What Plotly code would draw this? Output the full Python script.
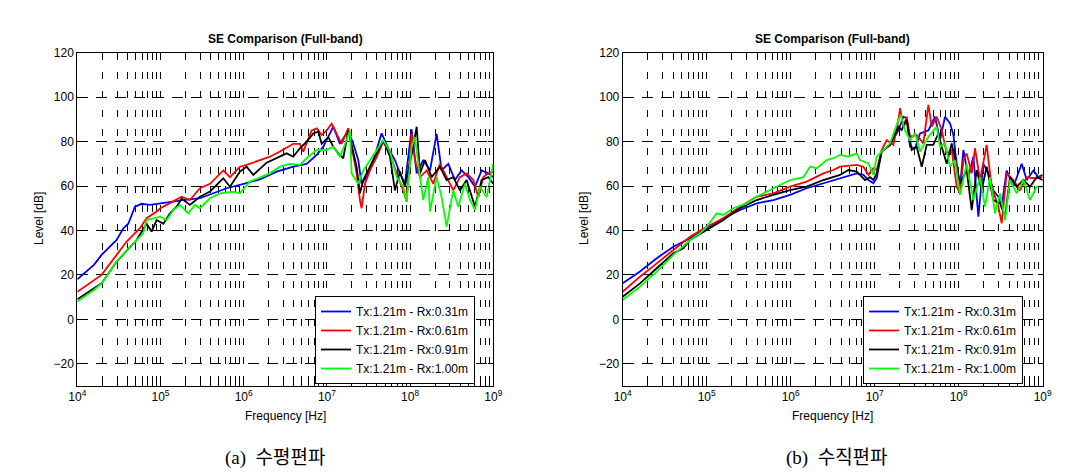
import plotly.graph_objects as go

# ---------------- data ----------------
legend_labels = ["Tx:1.21m - Rx:0.31m", "Tx:1.21m - Rx:0.61m",
                 "Tx:1.21m - Rx:0.91m", "Tx:1.21m - Rx:1.00m"]
line_colors = ["#0000FF", "#FF0000", "#000000", "#00FF00"]

# (a) horizontal polarisation: log10(frequency / Hz) and level [dB]
a_blue_logf = [4.000, 4.200, 4.292, 4.473, 4.553, 4.613, 4.693, 4.773, 4.873, 4.998,
               5.154, 5.274, 5.474, 5.635, 5.795, 5.999, 6.196, 6.396, 6.596, 6.756,
               6.877, 6.957, 7.017, 7.077, 7.157, 7.257, 7.317, 7.377, 7.417, 7.478,
               7.558, 7.658, 7.738, 7.818, 7.878, 7.938, 8.018, 8.079, 8.159, 8.239,
               8.319, 8.379, 8.459, 8.539, 8.619, 8.700, 8.780, 8.860, 8.940, 9.000]
a_blue_db = [18, 24.5, 29, 35.7, 41, 43, 50.7, 52, 51.5, 52.2,
             53, 53.7, 54.5, 56.7, 59, 61, 63, 66.5, 68.7, 70,
             74, 77.7, 82, 86.7, 79, 85, 79, 71.7, 61, 64,
             71.7, 83.7, 77, 71.7, 65.7, 61, 85.5, 65.7, 71.7, 67,
             83.5, 67, 70, 62.7, 67, 64, 59.7, 67, 65.7, 64]

a_red_logf = [4.000, 4.200, 4.292, 4.473, 4.593, 4.753, 4.833, 4.954, 4.998, 5.074,
              5.154, 5.254, 5.354, 5.474, 5.595, 5.715, 5.755, 5.835, 5.955, 6.035,
              6.196, 6.316, 6.436, 6.596, 6.676, 6.716, 6.817, 6.877, 6.937, 6.997,
              7.057, 7.117, 7.177, 7.257, 7.297, 7.357, 7.397, 7.417, 7.458, 7.518,
              7.598, 7.678, 7.758, 7.838, 7.918, 7.958, 8.018, 8.058, 8.119, 8.199,
              8.279, 8.359, 8.439, 8.519, 8.599, 8.679, 8.760, 8.820, 8.880, 8.940,
              9.000]
a_red_db = [12.4, 17.7, 20, 29, 35, 41, 45.5, 48.5, 50, 51.5,
            53, 55.2, 53.7, 59, 61, 65.7, 67, 64, 68.7, 69.5,
            71.7, 73.2, 75.5, 79, 79, 75.5, 85, 86, 83, 85,
            88, 83.7, 79, 86, 77.7, 65.7, 53.7, 50, 61, 67,
            73, 80, 74.7, 65.7, 58, 53, 83.7, 71.7, 64, 67,
            61, 70, 64, 58, 64, 65.7, 62.7, 55, 64, 65.7,
            66.5]

a_black_logf = [4.000, 4.200, 4.292, 4.473, 4.593, 4.713, 4.833, 4.893, 4.954, 5.034,
                5.114, 5.194, 5.254, 5.354, 5.474, 5.595, 5.675, 5.755, 5.835, 5.955,
                6.035, 6.115, 6.276, 6.396, 6.516, 6.596, 6.676, 6.756, 6.837, 6.897,
                6.937, 7.017, 7.077, 7.137, 7.197, 7.257, 7.317, 7.357, 7.397, 7.437,
                7.518, 7.598, 7.678, 7.758, 7.818, 7.878, 7.938, 8.038, 8.079, 8.119,
                8.179, 8.259, 8.359, 8.439, 8.519, 8.599, 8.679, 8.780, 8.860, 8.940,
                9.000]
a_black_db = [9, 14, 16.2, 26, 31, 35.7, 43, 39.5, 44.7, 43,
              47.7, 50.7, 54.4, 51.5, 55.2, 57.5, 60.5, 63.5, 59.7, 66.5,
              68.7, 65, 70.5, 72.5, 74.7, 73.2, 77, 80, 83.7, 84.5,
              79, 82, 77.7, 74.7, 72.5, 85, 75.5, 68.7, 56.7, 62.7,
              68.7, 74.7, 80.7, 73.2, 58, 66.5, 59.7, 77.7, 86.7, 65.7,
              71.7, 64, 68.7, 62.7, 64, 58, 62.7, 50.7, 62.7, 64,
              61]

a_green_logf = [4.000, 4.200, 4.292, 4.473, 4.593, 4.713, 4.793, 4.833, 4.913, 4.998,
                5.074, 5.154, 5.234, 5.334, 5.414, 5.474, 5.595, 5.715, 5.875, 5.955,
                6.075, 6.196, 6.316, 6.436, 6.556, 6.676, 6.756, 6.877, 6.997, 7.077,
                7.157, 7.237, 7.277, 7.297, 7.377, 7.437, 7.518, 7.598, 7.678, 7.758,
                7.838, 7.918, 7.958, 8.018, 8.058, 8.119, 8.159, 8.219, 8.239, 8.319,
                8.379, 8.439, 8.519, 8.579, 8.659, 8.720, 8.780, 8.840, 8.920, 9.000]
a_green_db = [8, 13.2, 16.2, 26, 31, 35.7, 38.7, 44.7, 45.5, 46.2,
              44.7, 49.2, 51.5, 47.7, 51.5, 50, 54.5, 56.7, 57.5, 56.7,
              62, 64, 65.7, 68.7, 70, 69.5, 72.5, 76.2, 76.2, 77.7,
              73.2, 80.7, 85, 65.7, 61, 67, 71.7, 76.2, 80.7, 75.5,
              64, 59.7, 53, 77.7, 82, 64, 53.7, 64, 48.5, 64,
              55, 41.7, 58, 50.7, 61, 53.7, 49.2, 59.7, 55, 70]

# (b) vertical polarisation
b_blue_logf = [4.000, 4.206, 4.405, 4.603, 4.802, 5.000, 5.198, 5.397, 5.595, 5.794,
               5.992, 6.190, 6.389, 6.587, 6.786, 6.865, 6.925, 6.984, 7.024, 7.083,
               7.183, 7.282, 7.341, 7.381, 7.421, 7.480, 7.540, 7.639, 7.718, 7.778,
               7.837, 7.897, 7.937, 7.976, 8.016, 8.056, 8.115, 8.175, 8.234, 8.294,
               8.353, 8.413, 8.472, 8.512, 8.571, 8.651, 8.750, 8.810, 8.889, 8.948,
               9.000]
b_blue_db = [16.2, 21.5, 27.5, 32.7, 36.5, 41, 45.5, 49.2, 52.2, 53.7,
             56, 59, 61.2, 63.5, 65.7, 65, 62.7, 61.2, 63.5, 75.5,
             78.5, 85, 91.2, 90.5, 77.7, 77, 83.7, 85, 91.2, 80.7,
             91.2, 88.2, 83, 70, 59.7, 76.2, 64, 73.2, 46.2, 70,
             65.7, 58, 55.2, 50.7, 67, 59.7, 70, 62.7, 67, 64,
             65]

b_red_logf = [4.000, 4.206, 4.405, 4.603, 4.802, 5.000, 5.198, 5.397, 5.595, 5.794,
              5.992, 6.190, 6.389, 6.508, 6.587, 6.786, 6.865, 6.925, 6.984, 7.024,
              7.083, 7.143, 7.222, 7.282, 7.302, 7.341, 7.381, 7.421, 7.500, 7.579,
              7.639, 7.679, 7.738, 7.798, 7.857, 7.917, 7.976, 8.016, 8.056, 8.095,
              8.155, 8.194, 8.254, 8.333, 8.393, 8.472, 8.512, 8.571, 8.651, 8.730,
              8.810, 8.889, 9.000]
b_red_db = [12.4, 19.2, 25.2, 31.2, 37.2, 41.7, 45.5, 50.7, 55.2, 56.7,
            59.7, 62, 65.7, 67.2, 68.7, 69.5, 68.7, 65, 68, 67.2,
            76.2, 80.7, 78.5, 89.7, 95, 86.7, 91.2, 82.2, 83, 79.2,
            96.5, 86.7, 91.2, 85.2, 74.7, 76.2, 59.7, 56.7, 71.7, 74.7,
            65.7, 77, 62.7, 78.5, 59.7, 50.7, 43.2, 65.7, 62.7, 58,
            64, 63.5, 64]

b_black_logf = [4.000, 4.206, 4.405, 4.603, 4.722, 4.802, 5.000, 5.198, 5.397, 5.595,
                5.794, 5.992, 6.190, 6.389, 6.587, 6.687, 6.786, 6.885, 6.944, 6.984,
                7.024, 7.083, 7.183, 7.282, 7.321, 7.381, 7.440, 7.500, 7.560, 7.619,
                7.698, 7.758, 7.798, 7.857, 7.917, 7.976, 8.016, 8.095, 8.155, 8.214,
                8.274, 8.333, 8.413, 8.492, 8.552, 8.611, 8.690, 8.770, 8.849, 8.929,
                9.000]
b_black_db = [10.2, 16.2, 23, 29.7, 32, 35.7, 40.2, 44.7, 50, 53.7,
              56, 58.2, 59.7, 62.7, 65, 67.2, 66.5, 62.7, 64, 62.7,
              65.7, 75.5, 78.5, 86.7, 85.2, 89.7, 76.2, 77.7, 68.7, 78.5,
              78.5, 83.7, 77.7, 70, 79.2, 68.7, 61.2, 67.2, 49.2, 67.2,
              58.2, 68.7, 53.7, 52.2, 46.2, 64, 59.7, 62.7, 59.7, 64,
              62.7]

b_green_logf = [4.000, 4.206, 4.405, 4.603, 4.802, 4.921, 5.000, 5.119, 5.198, 5.317,
                5.476, 5.595, 5.794, 5.992, 6.151, 6.230, 6.310, 6.429, 6.508, 6.587,
                6.687, 6.786, 6.825, 6.925, 6.984, 7.024, 7.083, 7.183, 7.282, 7.310,
                7.361, 7.421, 7.480, 7.540, 7.639, 7.738, 7.778, 7.837, 7.897, 7.956,
                8.016, 8.095, 8.175, 8.254, 8.313, 8.373, 8.433, 8.492, 8.552, 8.611,
                8.690, 8.770, 8.849, 8.929, 9.000]
b_green_db = [8.7, 14.7, 21.5, 29, 35.7, 38.7, 41.7, 47.7, 47, 50,
              52.2, 55.2, 59, 62.7, 64, 68.7, 68, 71.7, 72.5, 74,
              73.2, 74.7, 71.7, 70.2, 65, 73.2, 75.5, 79.2, 89.7, 92,
              85, 80.7, 83.7, 75.5, 82.2, 86.7, 77.7, 79.2, 68.7, 71.7,
              56, 70, 53.7, 64, 50.7, 64, 47.7, 56.7, 44.7, 62.7,
              56.7, 62.7, 53.7, 59.7, 59.7]

x_tick_exponents = [4, 5, 6, 7, 8, 9]
y_tick_values = [-20, 0, 20, 40, 60, 80, 100, 120]
plot_title = "SE Comparison (Full-band)"
x_title = "Frequency [Hz]"
y_title = "Level [dB]"
captions = ["(a)  수평편파", "(b)  수직편파"]

# ---------------- figure ----------------
W, H = 1066, 476
def fx(p):
    return p / W
def fy(p):
    return 1 - p / H

panels = [
    dict(xa="x", ya="y", leg="legend",
         logf=[a_blue_logf, a_red_logf, a_black_logf, a_green_logf],
         db=[a_blue_db, a_red_db, a_black_db, a_green_db]),
    dict(xa="x2", ya="y2", leg="legend2",
         logf=[b_blue_logf, b_red_logf, b_black_logf, b_green_logf],
         db=[b_blue_db, b_red_db, b_black_db, b_green_db]),
]

fig = go.Figure()
for p in panels:
    for k in range(4):
        fig.add_trace(go.Scatter(
            x=[10 ** v for v in p["logf"][k]], y=p["db"][k],
            mode="lines", name=legend_labels[k],
            line=dict(color=line_colors[k], width=1.8),
            xaxis=p["xa"], yaxis=p["ya"], legend=p["leg"]))

major_vals = [10 ** e for e in x_tick_exponents]
major_text = ["10<sup>%d</sup>" % e for e in x_tick_exponents]
minor_vals = [m * 10 ** e for e in x_tick_exponents[:-1] for m in range(2, 10)]

font_main = "Liberation Sans, Arial, sans-serif"

def xcfg(domain, anchor):
    return dict(type="log", range=[4, 9], domain=domain, anchor=anchor,
                tickmode="array", tickvals=major_vals, ticktext=major_text,
                showgrid=True, gridcolor="#000000", gridwidth=1, griddash="7px,12px",
                ticks="inside", ticklen=5, tickcolor="#000000", tickwidth=1,
                showline=True, linecolor="#000000", linewidth=1, mirror="ticks",
                zeroline=False, automargin=False,
                tickfont=dict(family=font_main, size=12, color="#000000"),
                minor=dict(tickmode="array", tickvals=minor_vals, showgrid=True,
                           gridcolor="#000000", gridwidth=1, griddash="7px,12px",
                           ticks="inside", ticklen=3, tickcolor="#000000"))

def ycfg(domain, anchor):
    return dict(range=[-30, 120], domain=domain, anchor=anchor,
                tickmode="array", tickvals=y_tick_values,
                showgrid=True, gridcolor="#000000", gridwidth=1, griddash="11px,8px",
                ticks="inside", ticklen=5, tickcolor="#000000", tickwidth=1,
                showline=True, linecolor="#000000", linewidth=1, mirror="ticks",
                zeroline=False, automargin=False,
                tickfont=dict(family=font_main, size=12, color="#000000"))

ydom = [fy(386), fy(52.7)]
xdom1 = [fx(77.3), fx(493.3)]
xdom2 = [fx(622.7), fx(1042.7)]

legend_common = dict(bgcolor="#FFFFFF", bordercolor="#000000", borderwidth=1,
                     font=dict(family=font_main, size=12, color="#000000"),
                     xanchor="left", yanchor="bottom", tracegroupgap=0)

fig.update_layout(
    width=W, height=H, margin=dict(l=0, r=0, t=0, b=0, pad=0, autoexpand=False),
    paper_bgcolor="#FFFFFF", plot_bgcolor="#FFFFFF",
    xaxis=xcfg(xdom1, "y"), yaxis=ycfg(ydom, "x"),
    xaxis2=xcfg(xdom2, "y2"), yaxis2=ycfg(ydom, "x2"),
    legend=dict(x=fx(315), y=fy(384), **legend_common),
    legend2=dict(x=fx(863), y=fy(384), **legend_common),
    showlegend=True,
)

centers = [(285.3, 38.5), (832.7, 38.5)]
ann = []
for i, (cx, cy) in enumerate(centers):
    ann.append(dict(text="<b>%s</b>" % plot_title, x=fx(cx), y=fy(cy), xref="paper", yref="paper",
                    showarrow=False, xanchor="center", yanchor="middle",
                    font=dict(family=font_main, size=12, color="#000000")))
    ann.append(dict(text=x_title, x=fx(cx), y=fy(416), xref="paper", yref="paper",
                    showarrow=False, xanchor="center", yanchor="middle",
                    font=dict(family=font_main, size=12, color="#000000")))
ann.append(dict(text=y_title, x=fx(39), y=fy(219), xref="paper", yref="paper", textangle=-90,
                showarrow=False, xanchor="center", yanchor="middle",
                font=dict(family=font_main, size=12, color="#000000")))
ann.append(dict(text=y_title, x=fx(584), y=fy(219), xref="paper", yref="paper", textangle=-90,
                showarrow=False, xanchor="center", yanchor="middle",
                font=dict(family=font_main, size=12, color="#000000")))
for cap, cx in zip(captions, [275.5, 836.5]):
    ann.append(dict(text=cap, x=fx(cx), y=fy(458), xref="paper", yref="paper",
                    showarrow=False, xanchor="center", yanchor="middle",
                    font=dict(family="Liberation Serif, Noto Sans CJK KR, serif", size=19, color="#000000")))
fig.update_layout(annotations=ann)

fig.write_html("out.html", config={"displayModeBar": False},
               post_script="document.body.style.margin='0';")
